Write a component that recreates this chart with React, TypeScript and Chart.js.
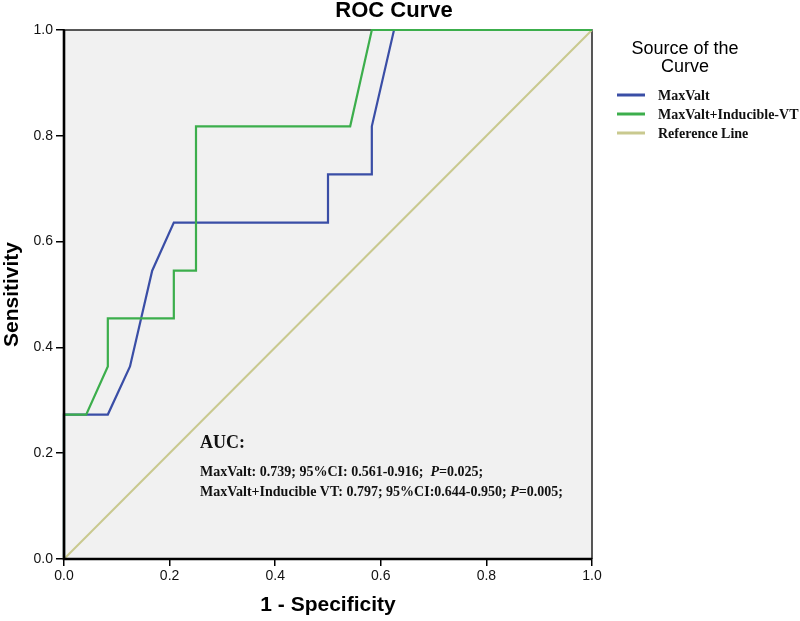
import React, { useEffect, useRef } from "react";
import { Chart, registerables } from "chart.js";

Chart.register(...registerables);

const maxValtFpr = [0, 0, 0.083, 0.125, 0.167, 0.208, 0.5, 0.5, 0.583, 0.583, 0.625, 1];
const maxValtTpr = [0, 0.273, 0.273, 0.364, 0.545, 0.636, 0.636, 0.727, 0.727, 0.818, 1, 1];
const comboFpr = [0, 0, 0.042, 0.083, 0.083, 0.208, 0.208, 0.25, 0.25, 0.542, 0.583, 1];
const comboTpr = [0, 0.273, 0.273, 0.364, 0.455, 0.455, 0.545, 0.545, 0.818, 0.818, 1, 1];
const refFpr = [0, 1];
const refTpr = [0, 1];

const seriesLabels = ["MaxValt", "MaxValt+Inducible-VT", "Reference Line"];
const seriesColors = ["#3a4ea6", "#3cae4c", "#c9c98f"];
const titleText = "ROC Curve";
const legendTitle = ["Source of the", "Curve"];
const aucTitle = "AUC:";
const aucLines = [
  ["MaxValt: 0.739; 95%CI: 0.561-0.916;  ", "P", "=0.025;"],
  ["MaxValt+Inducible VT: 0.797; 95%CI:0.644-0.950; ", "P", "=0.005;"],
];

const toPts = (xs: number[], ys: number[]) => xs.map((x, i) => ({ x, y: ys[i] }));

const decorPlugin = {
  id: "decor",
  beforeDraw(chart: any) {
    const { ctx, chartArea: a } = chart;
    ctx.save();
    ctx.fillStyle = "#f1f1f1";
    ctx.fillRect(a.left, a.top, a.right - a.left, a.bottom - a.top);
    ctx.restore();
  },
  beforeDatasetsDraw(chart: any) {
    const { ctx, chartArea: a } = chart;
    ctx.save();
    ctx.strokeStyle = "#222";
    ctx.lineWidth = 1.5;
    ctx.beginPath();
    ctx.moveTo(a.left, a.top);
    ctx.lineTo(a.right, a.top);
    ctx.lineTo(a.right, a.bottom);
    ctx.stroke();
    ctx.restore();
  },
  afterDatasetsDraw(chart: any) {
    const { ctx, chartArea: a } = chart;
    ctx.save();
    ctx.strokeStyle = "#000";
    ctx.lineWidth = 2.6;
    ctx.beginPath();
    ctx.moveTo(a.left, a.top);
    ctx.lineTo(a.left, a.bottom);
    ctx.lineTo(a.right, a.bottom);
    ctx.stroke();
    ctx.restore();
  },
  afterDraw(chart: any) {
    const { ctx, chartArea: a } = chart;
    ctx.save();
    // title
    ctx.fillStyle = "#000";
    ctx.font = "bold 22px Arial, 'Liberation Sans', sans-serif";
    ctx.textAlign = "center";
    ctx.textBaseline = "middle";
    ctx.fillText(titleText, 394, 11);

    // legend
    const lx = a.right + 93;
    ctx.font = "18px Arial, 'Liberation Sans', sans-serif";
    ctx.fillText(legendTitle[0], lx, 49);
    ctx.fillText(legendTitle[1], lx, 67);
    ctx.textAlign = "left";
    ctx.font = "bold 14px 'Liberation Serif', 'Times New Roman', serif";
    chart.data.datasets.forEach((ds: any, i: number) => {
      const y = 95 + i * 19;
      ctx.strokeStyle = ds.borderColor;
      ctx.lineWidth = 3;
      ctx.beginPath();
      ctx.moveTo(a.right + 25, y);
      ctx.lineTo(a.right + 53, y);
      ctx.stroke();
      ctx.fillStyle = "#111";
      ctx.fillText(ds.label, a.right + 66, y + 1);
    });

    // AUC annotation
    const x0 = 200;
    ctx.fillStyle = "#111";
    ctx.font = "bold 18px 'Liberation Serif', 'Times New Roman', serif";
    ctx.fillText(aucTitle, x0, 443);
    aucLines.forEach((parts, i) => {
      const y = 472 + i * 20;
      let x = x0;
      parts.forEach((p, j) => {
        ctx.font = (j === 1 ? "italic " : "") + "bold 14px 'Liberation Serif', 'Times New Roman', serif";
        ctx.fillText(p, x, y);
        x += ctx.measureText(p).width;
      });
    });
    ctx.restore();
  },
};

export default function App() {
  const ref = useRef<HTMLCanvasElement>(null);
  useEffect(() => {
    if (!ref.current) return;
    const tickFont = { family: "Arial, 'Liberation Sans', sans-serif", size: 14 };
    const titleFont = { family: "Arial, 'Liberation Sans', sans-serif", size: 21, weight: "bold" as const };
    const chart = new Chart(ref.current, {
      type: "scatter",
      data: {
        datasets: [
          {
            label: seriesLabels[0],
            data: toPts(maxValtFpr, maxValtTpr),
            borderColor: seriesColors[0],
            backgroundColor: seriesColors[0],
            showLine: true,
            pointRadius: 0,
            borderWidth: 2.2,
            order: 1,
            clip: false as any,
          },
          {
            label: seriesLabels[1],
            data: toPts(comboFpr, comboTpr),
            borderColor: seriesColors[1],
            backgroundColor: seriesColors[1],
            showLine: true,
            pointRadius: 0,
            borderWidth: 2.2,
            order: 0,
            clip: false as any,
          },
          {
            label: seriesLabels[2],
            data: toPts(refFpr, refTpr),
            borderColor: seriesColors[2],
            backgroundColor: seriesColors[2],
            showLine: true,
            pointRadius: 0,
            borderWidth: 2,
            order: 2,
            clip: false as any,
          },
        ],
      },
      options: {
        animation: false,
        responsive: false,
        maintainAspectRatio: false,
        layout: { padding: { top: 30, right: 208, left: 0, bottom: 0 } },
        plugins: { legend: { display: false }, tooltip: { enabled: false }, title: { display: false } },
        scales: {
          x: {
            type: "linear",
            min: 0,
            max: 1,
            afterFit: (axis: any) => {
              axis.height = 62;
            },
            ticks: {
              stepSize: 0.2,
              color: "#111",
              font: tickFont,
              padding: 2,
              callback: (v: any) => Number(v).toFixed(1),
            },
            grid: { drawOnChartArea: false, drawTicks: true, tickLength: 7, color: "#000", lineWidth: 1.5 },
            border: { color: "#000", width: 2 },
            title: { display: true, text: "1 - Specificity", color: "#000", font: titleFont, padding: { top: 0, bottom: 3 } },
          },
          y: {
            type: "linear",
            min: 0,
            max: 1,
            afterFit: (axis: any) => {
              axis.width = 64;
            },
            ticks: {
              stepSize: 0.2,
              color: "#111",
              font: tickFont,
              padding: 3,
              callback: (v: any) => Number(v).toFixed(1),
            },
            grid: { drawOnChartArea: false, drawTicks: true, tickLength: 8, color: "#000", lineWidth: 1.5 },
            border: { color: "#000", width: 2 },
            title: { display: true, text: "Sensitivity", color: "#000", font: titleFont, padding: { top: 0, bottom: 0 } },
          },
        },
      },
      plugins: [decorPlugin],
    });
    return () => chart.destroy();
  }, []);
  return (
    <div style={{ position: "fixed", left: 0, top: 0, width: 800, height: 621, background: "#fff" }}>
      <canvas ref={ref} width={800} height={621} style={{ display: "block" }} />
    </div>
  );
}
